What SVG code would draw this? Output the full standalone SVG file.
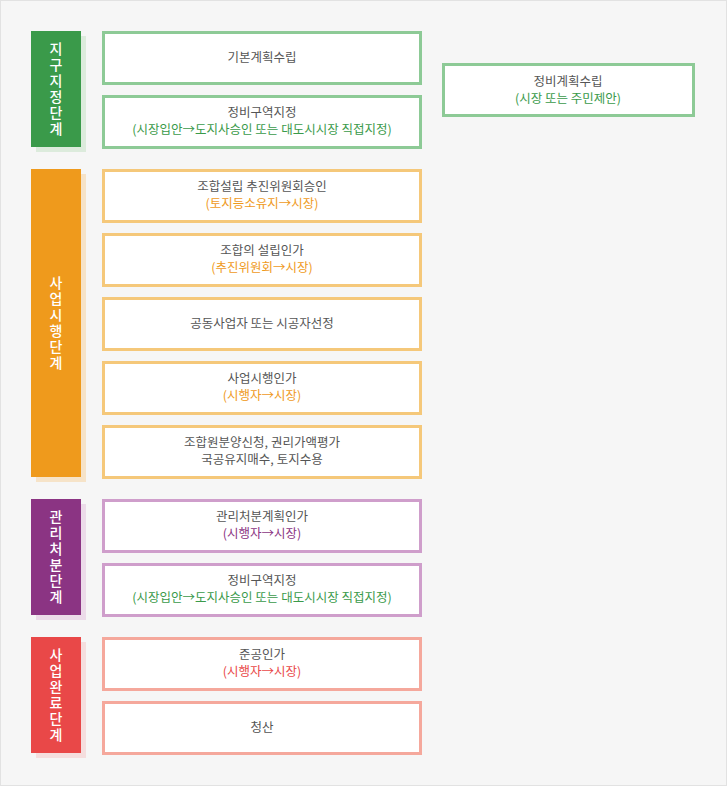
<svg xmlns="http://www.w3.org/2000/svg" width="727" height="786" viewBox="0 0 727 786">
<style>
text{font-family:"Noto Sans CJK KR","Noto Sans",sans-serif;font-size:12.5px;fill:#555;text-anchor:middle}
.bx{fill:#fff;stroke-width:3}
.g{stroke:#8dca96}.o{stroke:#f5c87a}.p{stroke:#cf9ecb}.r{stroke:#f5a89c}
.tg{fill:#3a9a4a}.to{fill:#ef9a1c}.tp{fill:#8b3483}.tr{fill:#e94848}
.lab{fill:#fff;font-size:14px;font-weight:500;writing-mode:vertical-rl;letter-spacing:2px}
</style>
<rect x="0.5" y="0.5" width="726" height="785" fill="#f6f6f6" stroke="#e2e2e2"/>
<g id="stage1">
<rect x="36" y="36" width="50" height="116" fill="#dcebdc"/>
<rect x="31" y="31" width="50" height="116" fill="#3a9a4a"/>
<text class="lab" x="56" y="90">지구지정단계</text>
</g>
<g id="stage2">
<rect x="36" y="174" width="50" height="308" fill="#f6e3c8"/>
<rect x="31" y="169" width="50" height="308" fill="#ef9a1c"/>
<text class="lab" x="56" y="324">사업시행단계</text>
</g>
<g id="stage3">
<rect x="36" y="504" width="50" height="116" fill="#ecdbe9"/>
<rect x="31" y="499" width="50" height="116" fill="#8b3483"/>
<text class="lab" x="56" y="558">관리처분단계</text>
</g>
<g id="stage4">
<rect x="36" y="642" width="50" height="116" fill="#f5dede"/>
<rect x="31" y="637" width="50" height="116" fill="#e94848"/>
<text class="lab" x="56" y="696">사업완료단계</text>
</g>
<g id="n1"><rect class="bx g" x="103.5" y="32.5" width="317" height="51"/><text x="262" y="62">기본계획수립</text></g>
<g id="n2"><rect class="bx g" x="103.5" y="96.5" width="317" height="51"/><text x="262" y="117">정비구역지정</text><text class="tg" x="262" y="134">(시장입안→도지사승인 또는 대도시시장 직접지정)</text></g>
<g id="n3"><rect class="bx g" x="443.5" y="64.5" width="250" height="51"/><text x="568" y="86">정비계획수립</text><text class="tg" x="568" y="103">(시장 또는 주민제안)</text></g>
<g id="n4"><rect class="bx o" x="103.5" y="170.5" width="317" height="51"/><text x="262" y="191">조합설립 추진위원회승인</text><text class="to" x="262" y="208">(토지등소유지→시장)</text></g>
<g id="n5"><rect class="bx o" x="103.5" y="234.5" width="317" height="51"/><text x="262" y="255">조합의 설립인가</text><text class="to" x="262" y="272">(추진위원회→시장)</text></g>
<g id="n6"><rect class="bx o" x="103.5" y="298.5" width="317" height="51"/><text x="262" y="328">공동사업자 또는 시공자선정</text></g>
<g id="n7"><rect class="bx o" x="103.5" y="362.5" width="317" height="51"/><text x="262" y="383">사업시행인가</text><text class="to" x="262" y="400">(시행자→시장)</text></g>
<g id="n8"><rect class="bx o" x="103.5" y="426.5" width="317" height="51"/><text x="262" y="447">조합원분양신청, 권리가액평가</text><text x="262" y="464">국공유지매수, 토지수용</text></g>
<g id="n9"><rect class="bx p" x="103.5" y="500.5" width="317" height="51"/><text x="262" y="521">관리처분계획인가</text><text class="tp" x="262" y="538">(시행자→시장)</text></g>
<g id="n10"><rect class="bx p" x="103.5" y="564.5" width="317" height="51"/><text x="262" y="585">정비구역지정</text><text class="tg" x="262" y="602">(시장입안→도지사승인 또는 대도시시장 직접지정)</text></g>
<g id="n11"><rect class="bx r" x="103.5" y="638.5" width="317" height="51"/><text x="262" y="659">준공인가</text><text class="tr" x="262" y="676">(시행자→시장)</text></g>
<g id="n12"><rect class="bx r" x="103.5" y="702.5" width="317" height="51"/><text x="262" y="732">청산</text></g>
<g id="connectors"/>
</svg>
